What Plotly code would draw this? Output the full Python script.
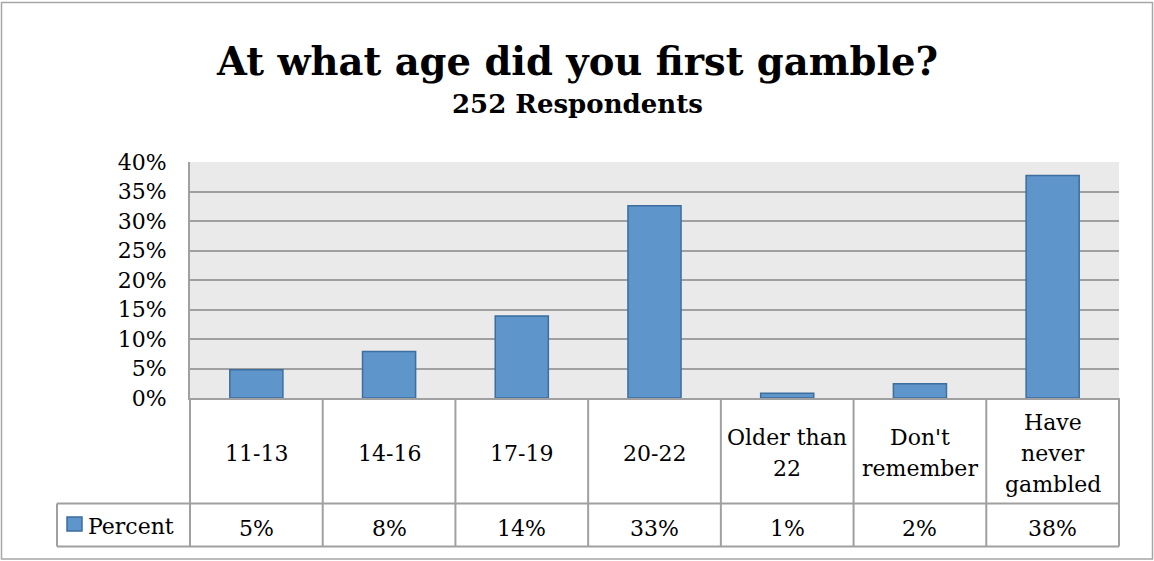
import plotly.graph_objects as go

# Survey data: age at which respondents first gambled (252 respondents)
categories = ["11-13", "14-16", "17-19", "20-22", "Older than 22", "Don't remember", "Have never gambled"]
category_labels = ["11-13", "14-16", "17-19", "20-22", "Older than<br>22", "Don't<br>remember", "Have<br>never<br>gambled"]
percent = [0.048, 0.079, 0.139, 0.326, 0.008, 0.024, 0.377]
series_name = "Percent"
y_ticks = [0, 0.05, 0.10, 0.15, 0.20, 0.25, 0.30, 0.35, 0.40]
y_tick_text = ["0%", "5%", "10%", "15%", "20%", "25%", "30%", "35%", "40%"]

W, H = 1154, 561
ML, MR, MT, MB = 190, 35, 162, 163
PW, PH = W - ML - MR, H - MT - MB

BAR_FILL = "#5E95CA"
BAR_EDGE = "#3D6E9E"
GRID = "#A0A0A0"
FONT = "DejaVu Serif"
LINE_STEP = 31  # pixel spacing between wrapped label lines


def px_x(px):
    return (px - ML) / PW


def px_y(py):
    return (H - MB - py) / PH


fig = go.Figure(
    go.Bar(
        x=categories,
        y=percent,
        name=series_name,
        marker=dict(color=BAR_FILL, line=dict(color=BAR_EDGE, width=1.5)),
        showlegend=False,
        hoverinfo="x+y",
    )
)

shapes = []
line = dict(color=GRID, width=2)
n = len(categories)
table_top, row_div, table_bot = 0, px_y(503.5), px_y(546.5)
legend_left = px_x(57)

# data table grid under the plot
for k in range(n + 1):
    shapes.append(dict(type="line", xref="x domain", yref="paper",
                       x0=k / n, x1=k / n, y0=table_top, y1=table_bot, line=line))
shapes.append(dict(type="line", xref="paper", yref="paper",
                   x0=legend_left, x1=1, y0=row_div, y1=row_div, line=line))
shapes.append(dict(type="line", xref="paper", yref="paper",
                   x0=legend_left, x1=1, y0=table_bot, y1=table_bot, line=line))
shapes.append(dict(type="line", xref="paper", yref="paper",
                   x0=legend_left, x1=legend_left, y0=row_div, y1=table_bot, line=line))

# legend key in the series row
shapes.append(dict(type="rect", xref="paper", yref="paper",
                   x0=px_x(67), x1=px_x(82), y0=px_y(531), y1=px_y(517),
                   fillcolor=BAR_FILL, line=dict(color=BAR_EDGE, width=1.5)))

# outer chart border
shapes.append(dict(type="rect", xref="paper", yref="paper",
                   x0=px_x(1.5), x1=px_x(1152.5), y0=px_y(559), y1=px_y(2.5),
                   line=dict(color="#A6A6A6", width=1.5), fillcolor="rgba(0,0,0,0)"))

cell_font = dict(family=FONT, size=22, color="black")
annotations = []
for i, (lab, v) in enumerate(zip(category_labels, percent)):
    parts = lab.split("<br>")
    for j, part in enumerate(parts):
        cy = 453 + (j - (len(parts) - 1) / 2) * LINE_STEP
        annotations.append(dict(x=i, xref="x", y=px_y(cy), yref="paper", text=part,
                                showarrow=False, xanchor="center", yanchor="middle",
                                font=cell_font))
    annotations.append(dict(x=i, xref="x", y=px_y(528), yref="paper",
                            text=f"{round(v * 100)}%",
                            showarrow=False, xanchor="center", yanchor="middle",
                            font=cell_font))

annotations.append(dict(x=px_x(86), xref="paper", y=px_y(526), yref="paper", text=series_name,
                        showarrow=False, xanchor="left", yanchor="middle", font=cell_font))

annotations.append(dict(x=px_x(577), xref="paper", xanchor="center", y=px_y(61), yref="paper",
                        yanchor="middle", text="<b>At what age did you first gamble?</b>",
                        showarrow=False, font=dict(family=FONT, size=38.5, color="black")))
annotations.append(dict(x=px_x(577), xref="paper", xanchor="center", y=px_y(104), yref="paper",
                        yanchor="middle", text="<b>252 Respondents</b>",
                        showarrow=False, font=dict(family=FONT, size=26, color="black")))

fig.update_layout(
    width=W, height=H,
    margin=dict(l=ML, r=MR, t=MT, b=MB, pad=0),
    paper_bgcolor="white",
    plot_bgcolor="#EAEAEA",
    bargap=0.6,
    shapes=shapes,
    annotations=annotations,
    font=dict(family=FONT, size=22, color="black"),
    xaxis=dict(showticklabels=False, ticks="", showgrid=False,
               showline=True, linecolor=GRID, linewidth=2, fixedrange=True),
    yaxis=dict(range=[0, 0.4], tickvals=y_ticks, ticktext=y_tick_text,
               ticks="", ticklabelstandoff=17,
               showgrid=True, gridcolor=GRID, gridwidth=2,
               zeroline=False, showline=True, linecolor=GRID, linewidth=2,
               tickfont=dict(family=FONT, size=22, color="black"), fixedrange=True),
)

fig.write_html("out.html", config={"displayModeBar": False})
